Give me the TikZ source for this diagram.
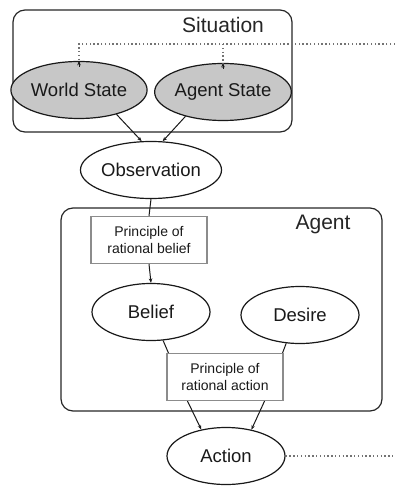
\documentclass[tikz,border=0pt]{standalone}
\usepackage{fontspec}
\setmainfont{Liberation Sans}
\usetikzlibrary{shapes.geometric,arrows.meta}
\tikzset{
  every picture/.style={x=1pt,y=-1pt},
  state/.style={ellipse,draw=black!90,line width=1.2pt,inner sep=0pt,
    minimum width=118pt,minimum height=57pt,font=\fontsize{18.5}{20}\selectfont,text=black!90},
  hidden/.style={state,fill=black!22},
  principle/.style={rectangle,draw=black!45,line width=1.1pt,inner sep=0pt,
    minimum width=116pt,minimum height=47pt,align=center,
    font=\fontsize{14}{16.5}\selectfont,text=black!90},
  frame/.style={draw=black!85,line width=1.2pt,rounded corners=12pt},
  title/.style={font=\fontsize{21}{24}\selectfont,text=black!85},
  link/.style={draw=black!90,line width=1pt},
  arr/.style={link,-{Stealth[length=4.5pt,width=3.5pt]}},
  obscure/.style={draw=black!55,line width=1.3pt,dash pattern=on 1.4pt off 2.4pt},
}
\begin{document}
\begin{tikzpicture}
\useasboundingbox (0,0) rectangle (395,486);

% situation frame
\draw[frame] (13,10) rectangle (292,132);
\node[title] (sit) at (223,25) {Situation};
\node[hidden] (ws) at (79,90) {World State};
\node[hidden] (as) at (223,92) {Agent State};

% agent frame
\draw[frame] (61,208) rectangle (382,411);
\node[title] (ag) at (323,224) {Agent};

\node[state] (obs) at (151,170) {Observation};
\node[principle] (rb) at (149,240) {Principle of\\rational belief};
\node[state] (bel) at (151,312) {Belief};
\node[state] (des) at (300,315) {Desire};
\node[principle] (ra) at (225,377) {Principle of\\rational action};
\node[state] (act) at (226,456) {Action};

% hidden-state inputs from outside
\coordinate (inR) at (395,44);
\coordinate (actR) at (395,456);
\draw[obscure] (inR) -- (ws.north |- inR) -- ([yshift=-5pt]ws.north);
\draw[obscure] (inR -| as.north) -- ([yshift=-5pt]as.north);
\draw[arr] ([yshift=-6pt]ws.north) -- (ws.north);
\draw[arr] ([yshift=-6pt]as.north) -- (as.north);
\draw[obscure] (act.east) -- (actR);

% observation
\draw[arr] (ws.-33) -- (obs.108);
\draw[arr] (as.213) -- (obs.68);
\draw[link] (obs.south) -- (rb.north);
\draw[arr] (rb.south) -- (bel.north);

% action
\draw[link] (bel.-67) -- ([xshift=2pt]ra.north west);
\draw[link] (des.-116) -- ([xshift=-1pt]ra.north east);
\draw[arr] ([xshift=21pt]ra.south west) -- (act.133);
\draw[arr] ([xshift=-19pt]ra.south east) -- (act.46);
\end{tikzpicture}
\end{document}
